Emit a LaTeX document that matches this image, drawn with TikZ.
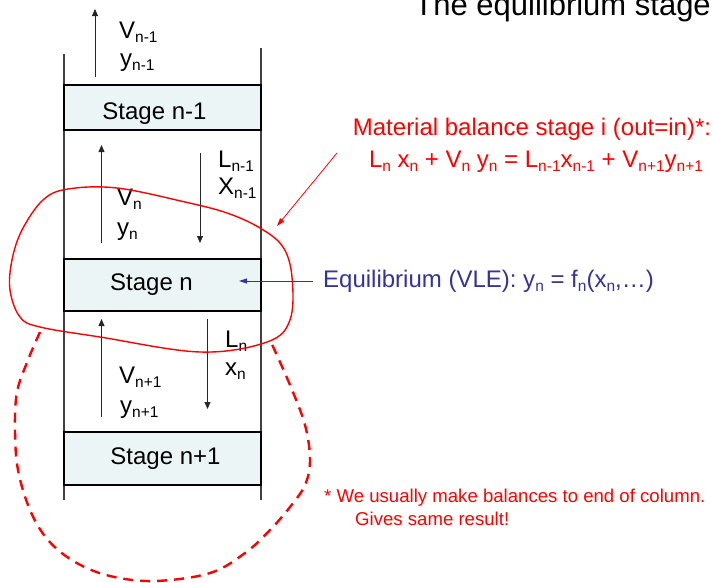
\documentclass[tikz,border=0pt]{standalone}
\usepackage{fontspec}
\setmainfont{Liberation Sans}
\usetikzlibrary{arrows.meta, positioning}
\definecolor{stagefill}{RGB}{236,245,245}
\definecolor{vleblue}{RGB}{51,51,153}
\definecolor{balred}{RGB}{255,0,0}
\newcommand{\lowidx}[2]{#1\raisebox{-4pt}{\fontsize{15.5}{15.5}\selectfont #2}}

\begin{document}
\begin{tikzpicture}[x=1pt, y=-1pt,
      stagebox/.style={rectangle, draw=black, line width=1.2pt, fill=stagefill,
                       minimum width=197pt, inner sep=0pt, font=\fontsize{24}{28}\selectfont},
      flow/.style={-{Triangle[length=7pt,width=6pt]}, line width=0.8pt, black!85},
      wall/.style={line width=1.1pt, black!75},
      lbl/.style={anchor=base west, inner sep=0pt, font=\fontsize{24}{28}\selectfont},
      redtxt/.style={anchor=base, inner sep=0pt, balred, font=\fontsize{24}{28}\selectfont},
      notetxt/.style={anchor=base west, inner sep=0pt, balred, font=\fontsize{18.6}{22}\selectfont},
      redarr/.style={-{Triangle[length=8pt,width=5pt]}, balred, line width=0.8pt},
      bluearr/.style={-{Triangle[length=8pt,width=5pt]}, vleblue, line width=0.8pt}
    ]
    \useasboundingbox (0,0) rectangle (713,582);

    % column walls
    \draw[wall] (64,54) -- (64,500);
    \draw[wall] (261,48) -- (261,500);

    % stages
    \node[stagebox, minimum height=45pt, text height=29pt, text depth=5pt] (s1) at (162.5,107.5) {\hspace*{-16pt}Stage n-1};
    \node[stagebox, minimum height=52pt] (s2) at (162.5,285) {\hspace*{-22pt}Stage n};
    \node[stagebox, minimum height=53pt] (s3) at (162.5,458.5) {\hspace*{6pt}Stage n+1};

    % vapour and liquid streams
    \coordinate (v1a) at (95,77);    \coordinate (v1b) at (95,9);
    \coordinate (v2a) at (101.5,243); \coordinate (v2b) at (101.5,145);
    \coordinate (l1a) at (200,153);  \coordinate (l1b) at (200,243);
    \coordinate (v3a) at (101.5,417); \coordinate (v3b) at (101.5,319);
    \coordinate (l2a) at (207.5,319); \coordinate (l2b) at (207.5,409);
    \draw[flow] (v1a) -- (v1b);
    \draw[flow] (v2a) -- (v2b);
    \draw[flow] (l1a) -- (l1b);
    \draw[flow] (v3a) -- (v3b);
    \draw[flow] (l2a) -- (l2b);

    \node[lbl] (vnm1) at (119,38) {\lowidx{V}{n-1}};
    \node[lbl] (ynm1) at (120,66) {\lowidx{y}{n-1}};
    \node[lbl] (vn) at (117,205) {\lowidx{V}{n}};
    \node[lbl] (yn) at (117,235) {\lowidx{y}{n}};
    \node[lbl] (lnm1) at (218,167) {\lowidx{L}{n-1}};
    \node[lbl] (xnm1) at (218,194) {\lowidx{X}{n-1}};
    \node[lbl] (ln) at (225,347) {\lowidx{L}{n}};
    \node[lbl] (xn) at (225,375) {\lowidx{x}{n}};
    \node[lbl] (vnp1) at (119,383) {\lowidx{V}{n+1}};
    \node[lbl] (ynp1) at (120,413) {\lowidx{y}{n+1}};

    % title
    \node[anchor=base east, inner sep=0pt, font=\fontsize{31}{36}\selectfont] (title) at (711,15) {The equilibrium stage};

    % material balance
    \node[redtxt] (mb1) at (532,135) {Material balance stage i (out=in)*:};
    \node[redtxt] (mb2) at (536,167) {\lowidx{L}{n} \lowidx{x}{n} + \lowidx{V}{n} \lowidx{y}{n} = \lowidx{L}{n-1}\lowidx{x}{n-1} + \lowidx{V}{n+1}\lowidx{y}{n+1}};
    \coordinate (mbtail) at (337,153);
    \coordinate (mbtip) at (277,226);
    \draw[redarr] (mbtail) -- (mbtip);

    \draw[balred, line width=1.4pt] plot[smooth cycle, tension=0.6] coordinates {
      (43,200) (68,189) (117,188) (185,202) (227,213) (260,228) (283,247) (292,277)
      (290,320) (267,342) (200,352) (100,337) (40,327) (20,317) (10,290) (12,260) (22,230)};

    \draw[balred, line width=2.4pt, dash pattern=on 10pt off 7pt] plot[smooth, tension=0.6] coordinates {
      (40,332) (28,360) (17,392) (15,430) (18,470) (30,510) (48,540) (75,562) (110,576)
      (155,581) (210,573) (245,553) (270,530) (290,507) (305,485) (310,460) (305,425)
      (290,385) (270,340)};

    % equilibrium
    \node[anchor=base west, inner sep=0pt, vleblue, font=\fontsize{24}{28}\selectfont] (vle) at (323,287)
      {Equilibrium (VLE): \lowidx{y}{n} = \lowidx{f}{n}(\lowidx{x}{n},…)};
    \coordinate (vletail) at (313,281);
    \coordinate (vletip) at (239,281);
    \draw[bluearr] (vletail) -- (vletip);

    % note
    \node[notetxt] (note1) at (324,502) {* We usually make balances to end of column.};
    \node[notetxt] (note2) at (355,525) {Gives same result!};
  \end{tikzpicture}
\end{document}
